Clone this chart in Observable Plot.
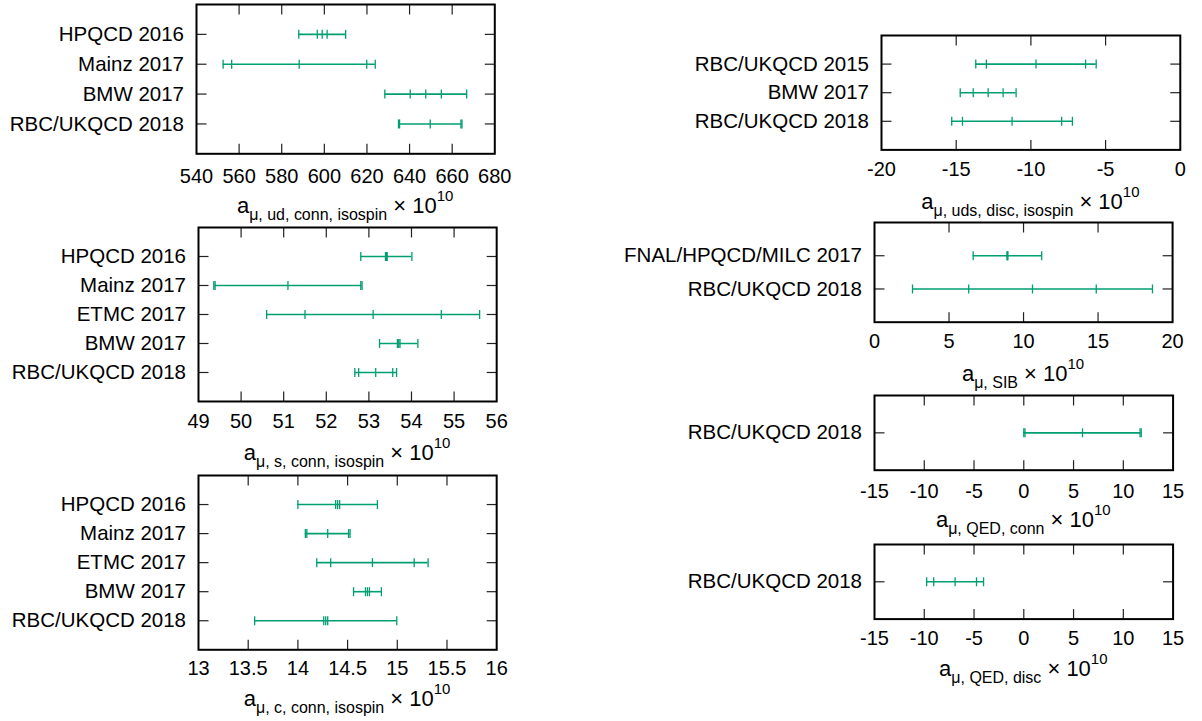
<!DOCTYPE html>
<html><head><meta charset="utf-8">
<script src="https://cdn.jsdelivr.net/npm/d3@7"></script>
<script src="https://cdn.jsdelivr.net/npm/@observablehq/plot@0.6"></script>
<style>
body{margin:0;background:#fff;}
#root{position:relative;width:1202px;height:721px;overflow:hidden;font-family:"Liberation Sans",Arial,sans-serif;background:#fff;}
#root svg{position:absolute;overflow:visible;background:transparent;max-width:none;}
</style></head><body><div id="root"></div>
<script>
// ---- data ----
const udLabels = ["HPQCD 2016", "Mainz 2017", "BMW 2017", "RBC/UKQCD 2018"];
const udCenter = [599.0, 588.2, 647.6, 649.7];
const udStat   = [2.3, 31.7, 7.3, 14.4];
const udTotal  = [11.0, 35.7, 19.2, 14.9];
const udTicks  = [540, 560, 580, 600, 620, 640, 660, 680];

const sLabels = ["HPQCD 2016", "Mainz 2017", "ETMC 2017", "BMW 2017", "RBC/UKQCD 2018"];
const sCenter = [53.41, 51.10, 53.10, 53.70, 53.16];
const sStat   = [0.02, 1.71, 1.60, 0.03, 0.40];
const sTotal  = [0.60, 1.74, 2.50, 0.45, 0.49];
const sTicks  = [49, 50, 51, 52, 53, 54, 55, 56];

const cLabels = ["HPQCD 2016", "Mainz 2017", "ETMC 2017", "BMW 2017", "RBC/UKQCD 2018"];
const cCenter = [14.40, 14.30, 14.75, 14.70, 14.28];
const cStat   = [0.02, 0.21, 0.42, 0.02, 0.02];
const cTotal  = [0.40, 0.225, 0.56, 0.14, 0.715];
const cTicks  = [13, 13.5, 14, 14.5, 15, 15.5, 16];

const udsLabels = ["RBC/UKQCD 2015", "BMW 2017", "RBC/UKQCD 2018"];
const udsCenter = [-9.66, -12.86, -11.26];
const udsStat   = [3.32, 1.00, 3.32];
const udsTotal  = [4.03, 1.87, 4.04];
const udsTicks  = [-20, -15, -10, -5, 0];

const sibLabels = ["FNAL/HPQCD/MILC 2017", "RBC/UKQCD 2018"];
const sibCenter = [8.92, 10.60];
const sibStat   = [0.03, 4.28];
const sibTotal  = [2.30, 8.05];
const sibTicks  = [0, 5, 10, 15, 20];

const qcLabels = ["RBC/UKQCD 2018"];
const qcCenter = [5.90];
const qcStat   = [5.78];
const qcTotal  = [5.90];
const qcTicks  = [-15, -10, -5, 0, 5, 10, 15];

const qdLabels = ["RBC/UKQCD 2018"];
const qdCenter = [-6.90];
const qdStat   = [2.15];
const qdTotal  = [2.86];
const qdTicks  = [-15, -10, -5, 0, 5, 10, 15];

// ---- layout ----
const panels = [
  {labels: udLabels, center: udCenter, stat: udStat, total: udTotal, ticks: udTicks, sub: "μ, ud, conn, isospin", frame: [195.7, 4, 494, 153.3], ml: 200, pad: 14.5, tOff: 59.5},
  {labels: sLabels, center: sCenter, stat: sStat, total: sTotal, ticks: sTicks, sub: "μ, s, conn, isospin", frame: [198.3, 227, 496.5, 401], ml: 200, pad: 12, tOff: 59.5},
  {labels: cLabels, center: cCenter, stat: cStat, total: cTotal, ticks: cTicks, sub: "μ, c, conn, isospin", frame: [198.3, 474.7, 496.5, 649], ml: 200, pad: 11.5, tOff: 57},
  {labels: udsLabels, center: udsCenter, stat: udsStat, total: udsTotal, ticks: udsTicks, sub: "μ, uds, disc, isospin", frame: [880.5, 35, 1179.3, 149.4], ml: 260, pad: 11.5, tOff: 59.5},
  {labels: sibLabels, center: sibCenter, stat: sibStat, total: sibTotal, ticks: sibTicks, sub: "μ, SIB", frame: [874.2, 222.3, 1172.3, 322], ml: 260, pad: 12, tOff: 59.5},
  {labels: qcLabels, center: qcCenter, stat: qcStat, total: qcTotal, ticks: qcTicks, sub: "μ, QED, conn", frame: [873.9, 395.3, 1172.5, 470], ml: 260, pad: 14, tOff: 57.5},
  {labels: qdLabels, center: qdCenter, stat: qdStat, total: qdTotal, ticks: qdTicks, sub: "μ, QED, disc", frame: [873.9, 543.7, 1172.5, 618.3], ml: 260, pad: 12, tOff: 57.5}
];

const green = "#009e73";
const FONT = "'Liberation Sans', Arial, sans-serif";
const TL = 10; // tick length px
const CAP = 4.5;
const sym = (x1, y1, x2, y2) => ({draw(ctx) { ctx.moveTo(x1, y1); ctx.lineTo(x2, y2); }});
const tickUp = sym(0, 0, 0, -TL), tickDown = sym(0, 0, 0, TL);
const tickRight = sym(0, 0, TL, 0), tickLeft = sym(0, 0, -TL, 0);
const capSym = sym(0, -CAP, 0, CAP);

const root = document.getElementById("root");

for (const p of panels) {
  const [x0, y0, x1, y1] = p.frame;
  const ML = p.ml, MT = 6, MR = 10, MB = 80;
  const W = x1 - x0, H = y1 - y0;
  const n = p.labels.length;
  const rows = p.labels.map((label, i) => ({label, y: i + 1, c: p.center[i], s: p.stat[i], t: p.total[i]}));
  const caps = rows.flatMap(r => [r.c - r.t, r.c - r.s, r.c, r.c + r.s, r.c + r.t].map(x => ({x, y: r.y})));
  const inner = p.ticks.slice(1, -1);
  const xmin = p.ticks[0], xmax = p.ticks[p.ticks.length - 1];
  const svg = Plot.plot({
    width: ML + W + MR, height: MT + H + MB,
    marginLeft: ML, marginRight: MR, marginTop: MT, marginBottom: MB,
    style: {fontFamily: FONT, fontSize: "20px", background: "transparent", overflow: "visible", color: "#000"},
    x: {domain: [xmin, xmax]},
    y: {domain: [0, n + 1], reverse: true},
    marks: [
      Plot.axisX(p.ticks, {anchor: "bottom", tickSize: 0, tickPadding: p.pad, tickFormat: d => String(d), fontSize: 20, fill: "#000", label: null}),
      Plot.axisY(rows.map(r => r.y), {anchor: "left", tickSize: 0, tickPadding: 12.5, tickFormat: d => p.labels[d - 1], fontSize: 20.5, fill: "#000", label: null}),
      Plot.dot(inner, {x: d => d, y: () => n + 1, symbol: tickUp, stroke: "#222", strokeWidth: 1.2, fill: "none"}),
      Plot.dot(inner, {x: d => d, y: () => 0, symbol: tickDown, stroke: "#222", strokeWidth: 1.2, fill: "none"}),
      Plot.dot(rows, {x: () => xmin, y: "y", symbol: tickRight, stroke: "#222", strokeWidth: 1.2, fill: "none"}),
      Plot.dot(rows, {x: () => xmax, y: "y", symbol: tickLeft, stroke: "#222", strokeWidth: 1.2, fill: "none"}),
      Plot.ruleY(rows, {y: "y", x1: r => r.c - r.t, x2: r => r.c + r.t, stroke: green, strokeWidth: 1.6}),
      Plot.dot(caps, {x: "x", y: "y", symbol: capSym, stroke: green, strokeWidth: 1.3, fill: "none"}),
      Plot.frame({stroke: "#000", strokeWidth: 2})
    ]
  });
  svg.style.left = (x0 - ML) + "px";
  svg.style.top = (y0 - MT) + "px";
  const t = d3.select(svg).append("text")
    .attr("x", ML + W / 2).attr("y", MT + H + p.tOff)
    .attr("text-anchor", "middle").attr("fill", "#000")
    .style("font-family", FONT).style("font-size", "22px");
  t.append("tspan").text("a");
  t.append("tspan").attr("dy", 7).style("font-size", "16px").text(p.sub);
  t.append("tspan").attr("dy", -7).text(" × 10");
  t.append("tspan").attr("dy", -12).style("font-size", "15px").text("10");
  root.appendChild(svg);
}
</script></body></html>
